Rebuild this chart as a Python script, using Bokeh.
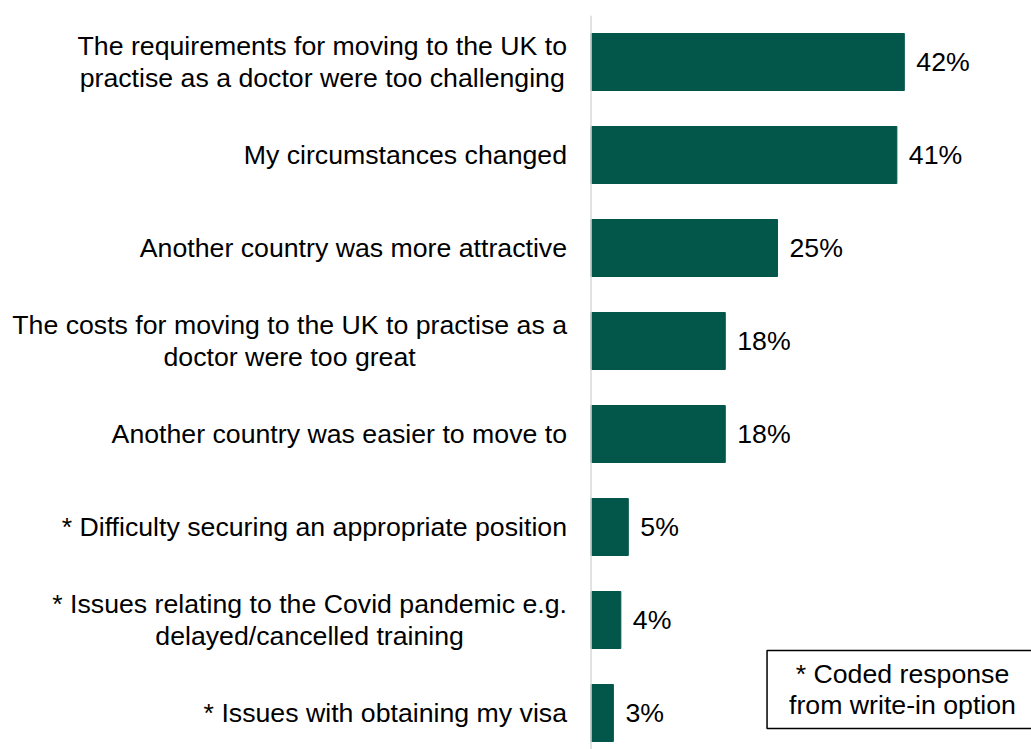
from bokeh.plotting import figure
from bokeh.models import ColumnDataSource, Range1d, Span, Label
from bokeh.core.properties import value
from bokeh.embed import file_html
from bokeh.resources import INLINE

categories = [
    "The requirements for moving to the UK to\npractise as a doctor were too challenging",
    "My circumstances changed",
    "Another country was more attractive",
    "The costs for moving to the UK to practise as a\ndoctor were too great",
    "Another country was easier to move to",
    "* Difficulty securing an appropriate position",
    "* Issues relating to the Covid pandemic e.g.\ndelayed/cancelled training",
    "* Issues with obtaining my visa",
]
values = [42, 41, 25, 18, 18, 5, 4, 3]
value_labels = [f"{v}%" for v in values]
note_text = "* Coded response\nfrom write-in option"

BAR = "#03574a"
FONT = "Liberation Sans"
FS = "26.7px"

src = ColumnDataSource(dict(
    y=list(range(len(categories))),
    cat=categories,
    val=values,
    lab=value_labels,
))

W, H = 1031, 749
px_per_unit = 7.46
zero_px = 590.5
x_start = -zero_px / px_per_unit
x_end = (W - zero_px) / px_per_unit

top_border = 15
frame_h = H - top_border
row_px = 93.0
y_top = -46.5 / row_px
y_bottom = y_top + frame_h / row_px

p = figure(width=W, height=H, output_backend="svg", toolbar_location=None,
           x_range=Range1d(x_start, x_end), y_range=Range1d(y_bottom, y_top),
           min_border_left=0, min_border_right=0, min_border_bottom=0,
           min_border_top=top_border)
p.axis.visible = False
p.grid.visible = False
p.outline_line_color = None
p.background_fill_color = "white"
p.border_fill_color = "white"

p.hbar(y="y", left=0, right="val", height=57 / row_px, source=src,
       fill_color=BAR, line_color=BAR)

p.add_layout(Span(location=0, dimension="height", line_color="#d9d9d9", line_width=1.5))

p.text(x=0, y="y", text="cat", source=src, x_offset=-24,
       text_align="center", anchor=value("center_right"), text_baseline="middle",
       text_font=value(FONT), text_font_size=FS, text_color="#000000",
       text_line_height=1.06)

p.text(x="val", y="y", text="lab", source=src, x_offset=12,
       text_align="left", text_baseline="middle",
       text_font=value(FONT), text_font_size=FS, text_color="#000000")

note = Label(x=902, y=H - 689, x_units="screen", y_units="screen", text=note_text,
             text_align="center", text_baseline="middle",
             text_font=FONT, text_font_size=FS, text_color="#000000",
             text_line_height=1.06,
             border_line_color="#000000", border_line_width=1.5,
             background_fill_color="white",
             padding=(22, 8))
p.add_layout(note)

open("out.html", "w").write(file_html(p, INLINE))
